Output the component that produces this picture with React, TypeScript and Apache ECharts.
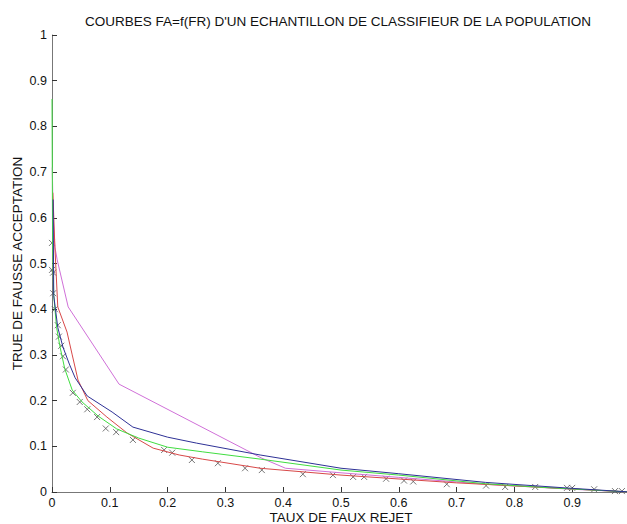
import React, { useEffect, useRef } from "react";
import * as echarts from "echarts";

const titleText = "COURBES FA=f(FR) D'UN ECHANTILLON DE CLASSIFIEUR DE LA POPULATION";
const xName = "TAUX DE FAUX REJET";
const yName = "TRUE DE FAUSSE ACCEPTATION";

const redCurve: [number, number][] = [
  [0.0015, 0.655], [0.005, 0.536], [0.01, 0.405], [0.026, 0.35], [0.035, 0.3],
  [0.045, 0.245], [0.062, 0.2], [0.095, 0.164], [0.13, 0.129], [0.175, 0.096],
  [0.22, 0.081], [0.26, 0.072], [0.36, 0.052], [0.5, 0.037], [0.7, 0.02],
  [0.85, 0.01], [1.0, 0.0],
];

const blueCurve: [number, number][] = [
  [0.002, 0.64], [0.003, 0.43], [0.01, 0.36], [0.019, 0.317], [0.03, 0.28],
  [0.04, 0.25], [0.061, 0.21], [0.104, 0.175], [0.14, 0.142], [0.2, 0.12],
  [0.25, 0.107], [0.36, 0.081], [0.5, 0.052], [0.6, 0.04], [0.75, 0.021],
  [0.9, 0.008], [1.0, 0.0],
];

const greenCurve: [number, number][] = [
  [0.0, 0.86], [0.001, 0.55], [0.003, 0.43], [0.008, 0.36], [0.014, 0.317],
  [0.022, 0.27], [0.035, 0.223], [0.052, 0.197], [0.08, 0.166], [0.112, 0.138],
  [0.15, 0.118], [0.2, 0.098], [0.26, 0.088], [0.36, 0.072], [0.5, 0.048],
  [0.6, 0.037], [0.75, 0.018], [0.85, 0.01], [1.0, 0.0],
];

const magentaCurve: [number, number][] = [
  [0.0005, 0.71], [0.002, 0.6], [0.005, 0.536], [0.009, 0.508], [0.028, 0.405],
  [0.116, 0.236], [0.363, 0.074], [0.404, 0.052], [0.5, 0.042],
  [0.6, 0.032], [0.75, 0.017], [0.9, 0.006], [1.0, 0.0],
];

const markers: [number, number][] = [
  [0.0, 0.545], [0.0, 0.486], [0.002, 0.48], [0.002, 0.435], [0.005, 0.4],
  [0.01, 0.365], [0.012, 0.34], [0.016, 0.32], [0.019, 0.297], [0.024, 0.268],
  [0.036, 0.217], [0.048, 0.197], [0.061, 0.181], [0.078, 0.164], [0.093, 0.139],
  [0.111, 0.131], [0.14, 0.114], [0.194, 0.092], [0.208, 0.086], [0.242, 0.07],
  [0.287, 0.063], [0.334, 0.052], [0.363, 0.048], [0.434, 0.039], [0.486, 0.037],
  [0.521, 0.033], [0.54, 0.033], [0.578, 0.029], [0.609, 0.025], [0.625, 0.023],
  [0.683, 0.017], [0.751, 0.014], [0.784, 0.011], [0.836, 0.011], [0.891, 0.009],
  [0.9, 0.009], [0.938, 0.006], [0.974, 0.002], [0.986, 0.002],
];

const xMaxLabel = 0.9;

export default function App() {
  const ref = useRef<HTMLDivElement>(null);
  useEffect(() => {
    if (!ref.current) return;
    const chart = echarts.init(ref.current, undefined, { renderer: "svg" });
    const font = "'Liberation Sans', Arial, sans-serif";
    const axisColor = "#777";
    const fmt = (v: number) => String(Math.round(v * 10) / 10);
    const lineSeries = (data: [number, number][], color: string) => ({
      type: "line",
      data,
      showSymbol: false,
      symbol: "none",
      lineStyle: { color, width: 1 },
      clip: false,
    });
    chart.setOption({
      animation: false,
      backgroundColor: "#fff",
      title: {
        text: titleText,
        left: 80,
        top: 9,
        textStyle: { fontFamily: font, fontSize: 13.5, fontWeight: "normal", color: "#111" },
      },
      grid: {
        left: 52,
        top: 35,
        width: 578,
        height: 457,
        containLabel: false,
        outerBoundsMode: "none",
      },
      xAxis: {
        type: "value",
        min: 0,
        max: 1,
        interval: 0.1,
        name: xName,
        nameLocation: "middle",
        nameGap: 18,
        nameMoveOverlap: false,
        nameTextStyle: { fontFamily: font, fontSize: 13.5, color: "#111" },
        axisLine: { lineStyle: { color: axisColor, width: 1 } },
        axisTick: { inside: true, length: 5, lineStyle: { color: "#333" } },
        axisLabel: {
          fontFamily: font,
          fontSize: 12.5,
          color: "#111",
          margin: 4,
          formatter: (v: number) => (v > xMaxLabel + 1e-9 ? "" : fmt(v)),
        },
        splitLine: { show: false },
      },
      yAxis: {
        type: "value",
        min: 0,
        max: 1,
        interval: 0.1,
        name: yName,
        nameLocation: "middle",
        nameGap: 28,
        nameMoveOverlap: false,
        nameTextStyle: { fontFamily: font, fontSize: 13.5, color: "#111" },
        axisLine: { show: true, lineStyle: { color: axisColor, width: 1 } },
        axisTick: { show: true, inside: true, length: 5, lineStyle: { color: "#333" } },
        axisLabel: { fontFamily: font, fontSize: 12.5, color: "#111", margin: 5, formatter: fmt },
        splitLine: { show: false },
      },
      series: [
        lineSeries(magentaCurve, "#d070d8"),
        lineSeries(redCurve, "#d84848"),
        lineSeries(greenCurve, "#40dd40"),
        lineSeries(blueCurve, "#2e3196"),
        {
          type: "scatter",
          data: markers,
          symbol: "path://M0,0L10,10M10,0L0,10",
          symbolSize: 6,
          itemStyle: { color: "none", borderColor: "#555", borderWidth: 1 },
          clip: false,
        },
      ],
    });
    return () => chart.dispose();
  }, []);
  return (
    <div
      ref={ref}
      style={{ position: "absolute", left: 0, top: 0, width: 627, height: 524 }}
    />
  );
}
